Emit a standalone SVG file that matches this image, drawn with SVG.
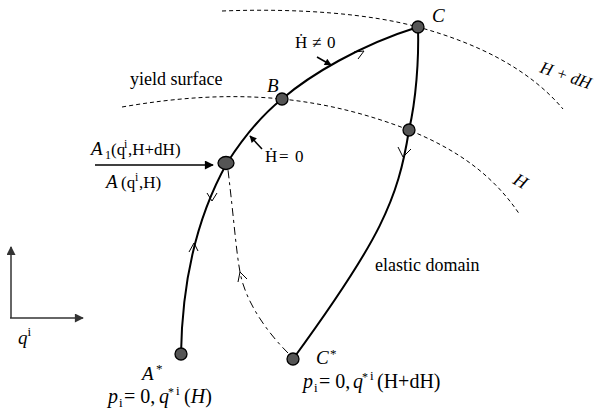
<svg xmlns="http://www.w3.org/2000/svg" width="595" height="418" viewBox="0 0 595 418" font-family="'Liberation Serif', 'DejaVu Serif', serif">
<style>
  text { font-family: 'Liberation Serif', 'DejaVu Serif', serif; fill: #000; }
  .it { font-style: italic; }
  .surf { fill: none; stroke: #000; stroke-width: 1; stroke-dasharray: 4 3; }
  .path { fill: none; stroke: #000; stroke-width: 2; }
  .dd { fill: none; stroke: #000; stroke-width: 1; stroke-dasharray: 8 4 3 4; }
  .chev { fill: none; stroke: #000; stroke-width: 1; }
  .node { fill: #555; stroke: #000; stroke-width: 1.3; }
  .ax { fill: none; stroke: #333; stroke-width: 1.5; }
</style>
<defs>
  <marker id="ah" viewBox="0 0 10 10" refX="9" refY="5" markerUnits="userSpaceOnUse" markerWidth="13" markerHeight="9" orient="auto">
    <path d="M0,0 L10,5 L0,10 z" fill="#000"/>
  </marker>
  <marker id="ahg" viewBox="0 0 10 10" refX="9" refY="5" markerUnits="userSpaceOnUse" markerWidth="13" markerHeight="9" orient="auto">
    <path d="M0,0 L10,5 L0,10 z" fill="#333"/>
  </marker>
  <marker id="ahs" viewBox="0 0 10 10" refX="9" refY="5" markerUnits="userSpaceOnUse" markerWidth="9" markerHeight="7" orient="auto">
    <path d="M0,0 L10,5 L0,10 z" fill="#000"/>
  </marker>
</defs>

<g id="surfaces">
  <path class="surf" d="M222,11 C300,8 370,14 418,27 C480,44 530,70 563,109"/>
  <path class="surf" d="M122,107 C180,97 230,94 282,99 C330,104 370,115 409,130 C450,147 490,170 520,215"/>
</g>

<g id="connectors">
  <path class="path" d="M181,354 C182,290 194,222 227,163"/>
  <path class="path" d="M227,163 C245,135 262,115 282,99 C310,75 360,45 418,27"/>
  <path class="path" d="M418,27 C419,60 416,100 409,130"/>
  <path class="path" d="M409,130 C398,200 380,240 293,359"/>
  <path class="dd" d="M288,353 C265,330 245,300 240,272 C236,250 234,220 228,170"/>
  <polyline class="chev" points="354,52 364,51 358,59"/>
  <polyline class="chev" points="207,193 212,201 217,193"/>
  <polyline class="chev" points="189,252 194,243 198,251"/>
  <polyline class="chev" points="398,147 403,157 411,149"/>
  <polyline class="chev" points="238,282 240,272 247,279"/>
  <line x1="95" y1="165" x2="213" y2="165" stroke="#000" stroke-width="1.3" marker-end="url(#ah)"/>
  <line x1="317" y1="57" x2="331" y2="65" stroke="#000" stroke-width="1.5" marker-end="url(#ahs)"/>
  <line x1="262" y1="149" x2="250" y2="136" stroke="#000" stroke-width="1.5" marker-end="url(#ahs)"/>
</g>

<g id="axes">
  <line class="ax" x1="11" y1="318" x2="11" y2="247" marker-end="url(#ahg)"/>
  <line class="ax" x1="10" y1="318" x2="83" y2="318" marker-end="url(#ahg)"/>
  <text x="18" y="344" font-size="19"><tspan class="it">q</tspan><tspan font-size="13" dy="-8">i</tspan></text>
</g>

<g id="node-C">
  <circle class="node" cx="418" cy="27" r="6"/>
  <text class="it" x="432" y="22" font-size="19">C</text>
</g>
<g id="node-B">
  <circle class="node" cx="282" cy="99" r="6"/>
  <text class="it" x="267" y="92" font-size="19">B</text>
</g>
<g id="node-H">
  <circle class="node" cx="409" cy="130" r="6"/>
</g>
<g id="node-A">
  <ellipse class="node" cx="226" cy="163" rx="8" ry="6.5"/>
  <text y="155" font-size="17"><tspan class="it" x="91" font-size="19">A</tspan><tspan x="105" dy="4" font-size="12">1</tspan><tspan x="111" dy="-4">(q</tspan><tspan x="124" dy="-7" font-size="12">i</tspan><tspan x="128" dy="7">,H+dH)</tspan></text>
  <text y="188" font-size="17"><tspan class="it" x="106" font-size="19">A</tspan><tspan x="121">(q</tspan><tspan x="135" dy="-7" font-size="12">i</tspan><tspan x="139" dy="7">,H)</tspan></text>
</g>
<g id="node-Astar">
  <circle class="node" cx="181" cy="354" r="6"/>
  <text x="142" y="380" font-size="19"><tspan class="it">A</tspan><tspan x="156" dy="-7" font-size="13">*</tspan></text>
  <text y="403" font-size="20"><tspan class="it" x="108">p</tspan><tspan x="119" dy="4" font-size="13">i</tspan><tspan x="124" dy="-4">= 0,</tspan><tspan class="it" x="159">q</tspan><tspan x="168" dy="-7" font-size="12">*</tspan><tspan x="176" dy="-1" font-size="13">i</tspan><tspan x="184" dy="8">(</tspan><tspan class="it">H</tspan><tspan>)</tspan></text>
</g>
<g id="node-Cstar">
  <circle class="node" cx="293" cy="359" r="6"/>
  <text x="316" y="364" font-size="19"><tspan class="it">C</tspan><tspan x="330" dy="-6" font-size="13">*</tspan></text>
  <text y="388" font-size="20"><tspan class="it" x="303">p</tspan><tspan x="314" dy="4" font-size="13">i</tspan><tspan x="319" dy="-4">= 0,</tspan><tspan class="it" x="353">q</tspan><tspan x="362" dy="-7" font-size="12">*</tspan><tspan x="370" dy="-1" font-size="13">i</tspan><tspan x="377" dy="8">(H+dH)</tspan></text>
</g>

<g id="labels">
  <text x="130" y="85" font-size="18">yield surface</text>
  <text x="375" y="271" font-size="18">elastic domain</text>
  <text y="48" font-size="17"><tspan x="295">Ḣ</tspan><tspan x="312">≠</tspan><tspan x="327">0</tspan></text>
  <text y="162" font-size="17"><tspan x="265">Ḣ</tspan><tspan x="279">=</tspan><tspan x="295">0</tspan></text>
  <text class="it" font-size="17" transform="translate(539,72) rotate(19)">H + dH</text>
  <text class="it" font-size="18" transform="translate(512,183) rotate(30)">H</text>
</g>
</svg>
